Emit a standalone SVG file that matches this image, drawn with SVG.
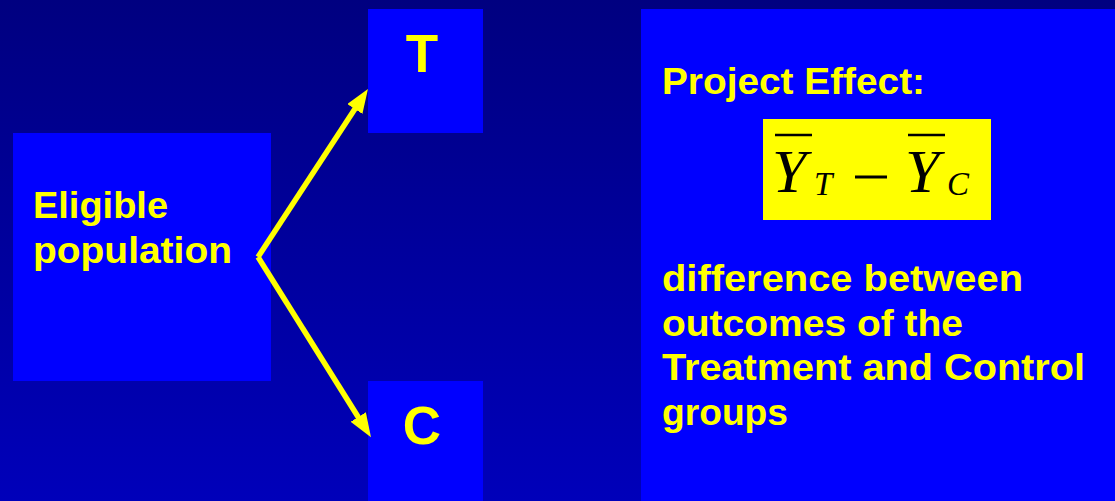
<svg xmlns="http://www.w3.org/2000/svg" width="1115" height="501" viewBox="0 0 1115 501">
<defs>
<linearGradient id="bg" x1="0" y1="0" x2="0" y2="1">
<stop offset="0" stop-color="#000080"/>
<stop offset="1" stop-color="#0000BA"/>
</linearGradient>
<marker id="ah" markerUnits="userSpaceOnUse" markerWidth="26" markerHeight="20" refX="12" refY="9" orient="auto">
<path d="M0,0 L24,9 L0,18 z" fill="#FFFF00"/>
</marker>
<style>
.box{fill:#0000FF;}
.lbl{font-family:"Liberation Sans",Arial,sans-serif;font-weight:bold;fill:#FFFF00;}
.big{font-size:53px;}
.txt{font-size:37px;}
.conn{stroke:#FFFF00;stroke-width:5.5;fill:none;marker-end:url(#ah);}
.math{font-family:"Liberation Serif","Times New Roman",serif;font-style:italic;fill:#000000;}
</style>
</defs>
<rect width="1115" height="501" fill="url(#bg)"/>
<g id="eligible">
<rect class="box" x="13" y="133" width="258" height="248"/>
<text class="lbl txt" x="33" y="218" textLength="135" lengthAdjust="spacingAndGlyphs">Eligible</text>
<text class="lbl txt" x="33" y="263" textLength="199" lengthAdjust="spacingAndGlyphs">population</text>
</g>
<g id="treatment">
<rect class="box" x="368" y="9" width="115" height="124"/>
<text class="lbl big" x="422" y="72" text-anchor="middle">T</text>
</g>
<g id="control">
<rect class="box" x="368" y="381" width="115" height="120"/>
<text class="lbl big" x="422" y="444" text-anchor="middle">C</text>
</g>
<g id="effect">
<rect class="box" x="641" y="9" width="474" height="492"/>
<text class="lbl txt" x="662" y="94" textLength="263" lengthAdjust="spacingAndGlyphs">Project Effect:</text>
<rect x="763" y="119" width="228" height="101" fill="#FFFF00"/>
<text class="math" x="772" y="192" font-size="62">Y</text>
<line x1="775" y1="135" x2="812" y2="135" stroke="#000" stroke-width="2.5"/>
<text class="math" x="814" y="195" font-size="33">T</text>
<line x1="855" y1="177" x2="887" y2="177" stroke="#000" stroke-width="3"/>
<text class="math" x="905" y="192" font-size="62">Y</text>
<line x1="908" y1="135" x2="945" y2="135" stroke="#000" stroke-width="2.5"/>
<text class="math" x="947" y="195" font-size="33">C</text>
<text class="lbl txt" x="662" y="291" textLength="361" lengthAdjust="spacingAndGlyphs">difference between</text>
<text class="lbl txt" x="662" y="336" textLength="301" lengthAdjust="spacingAndGlyphs">outcomes of the</text>
<text class="lbl txt" x="662" y="380" textLength="423" lengthAdjust="spacingAndGlyphs">Treatment and Control</text>
<text class="lbl txt" x="662" y="425" textLength="126" lengthAdjust="spacingAndGlyphs">groups</text>
</g>
<g id="connectors">
<line class="conn" x1="258" y1="257" x2="361.4" y2="99"/>
<line class="conn" x1="258" y1="257" x2="364.6" y2="427.2"/>
</g>
</svg>
